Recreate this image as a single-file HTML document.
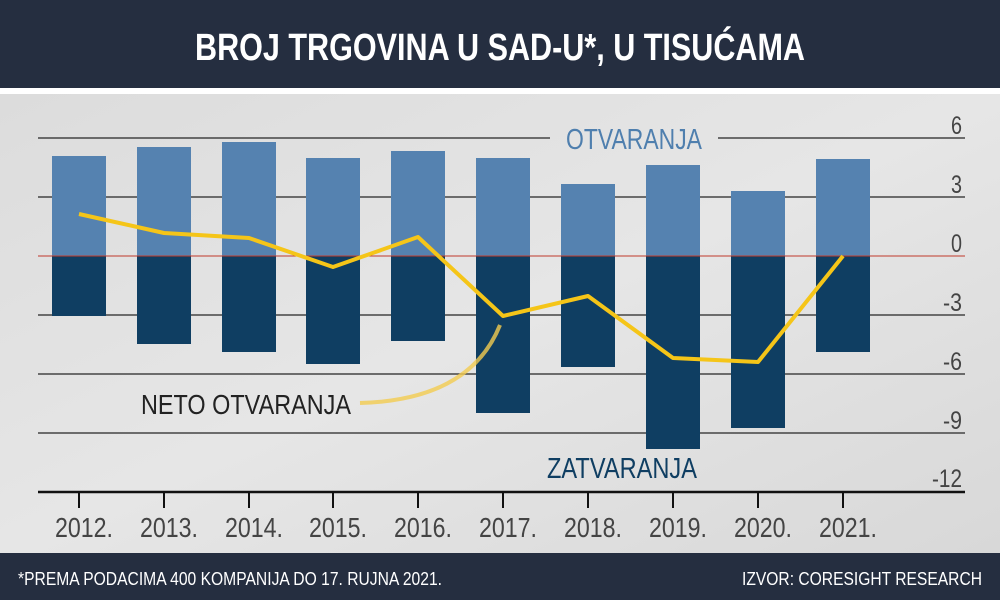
<!DOCTYPE html>
<html><head><meta charset="utf-8"><style>
html,body{margin:0;padding:0;width:1000px;height:600px;overflow:hidden;background:#fff}
svg{display:block}
text{font-family:"Liberation Sans Narrow","Liberation Sans",sans-serif}
</style></head><body>
<svg width="1000" height="600" viewBox="0 0 1000 600">
<defs>
<linearGradient id="bg" x1="0" y1="0" x2="1" y2="1">
<stop offset="0" stop-color="#dcdcdc"/><stop offset="0.5" stop-color="#e6e6e6"/><stop offset="1" stop-color="#d8d8d8"/>
</linearGradient>
</defs>
<rect x="0" y="0" width="1000" height="88" fill="#252e40"/>
<rect x="0" y="88" width="1000" height="6" fill="#ffffff"/>
<rect x="0" y="94" width="1000" height="459" fill="url(#bg)"/>
<rect x="0" y="553" width="1000" height="47" fill="#252e40"/>
<text x="500" y="60" text-anchor="middle" fill="#fff" font-size="38" font-weight="bold" textLength="610" lengthAdjust="spacingAndGlyphs">BROJ TRGOVINA U SAD-U*, U TISUĆAMA</text>
<g stroke="#444" stroke-width="1.5">
<line x1="38" y1="138" x2="550" y2="138"/><line x1="718" y1="138" x2="965" y2="138"/>
<line x1="38" y1="197" x2="965" y2="197"/>
<line x1="38" y1="315" x2="965" y2="315"/>
<line x1="38" y1="374" x2="965" y2="374"/>
<line x1="38" y1="433" x2="965" y2="433"/>
</g>
<g fill="#5582b0">
<rect x="52" y="156" width="54" height="100"/><rect x="137" y="147" width="54" height="109"/>
<rect x="222" y="142" width="54" height="114"/><rect x="306" y="158" width="54" height="98"/>
<rect x="391" y="151" width="54" height="105"/><rect x="476" y="158" width="54" height="98"/>
<rect x="561" y="184" width="54" height="72"/><rect x="646" y="165" width="54" height="91"/>
<rect x="731" y="191" width="54" height="65"/><rect x="816" y="159" width="54" height="97"/>
</g>
<g fill="#0f3e62">
<rect x="52" y="256" width="54" height="60"/><rect x="137" y="256" width="54" height="88"/>
<rect x="222" y="256" width="54" height="96"/><rect x="306" y="256" width="54" height="108"/>
<rect x="391" y="256" width="54" height="85"/><rect x="476" y="256" width="54" height="157"/>
<rect x="561" y="256" width="54" height="111"/><rect x="646" y="256" width="54" height="193"/>
<rect x="731" y="256" width="54" height="172"/><rect x="816" y="256" width="54" height="96"/>
</g>
<line x1="38" y1="256" x2="965" y2="256" stroke="#c0392b" stroke-width="1"/>
<path d="M360 403 Q470 400 500 325" fill="none" stroke="#f2cc50" stroke-width="4" opacity="0.8"/>
<polyline points="79,214 164,233 249,238 333,267 418,237 503,316 588,296 673,358 758,362 843,256" fill="none" stroke="#f5c518" stroke-width="4" stroke-linejoin="round"/>
<line x1="38" y1="492" x2="965" y2="492" stroke="#111" stroke-width="2.5"/>
<g stroke="#111" stroke-width="2">
<line x1="79" y1="492" x2="79" y2="508"/><line x1="164" y1="492" x2="164" y2="508"/><line x1="249" y1="492" x2="249" y2="508"/><line x1="333" y1="492" x2="333" y2="508"/><line x1="418" y1="492" x2="418" y2="508"/><line x1="503" y1="492" x2="503" y2="508"/><line x1="588" y1="492" x2="588" y2="508"/><line x1="673" y1="492" x2="673" y2="508"/><line x1="758" y1="492" x2="758" y2="508"/><line x1="843" y1="492" x2="843" y2="508"/>
</g>
<g fill="#444" font-size="28" text-anchor="middle">
<text x="84" y="537" textLength="58" lengthAdjust="spacingAndGlyphs">2012.</text>
<text x="169" y="537" textLength="58" lengthAdjust="spacingAndGlyphs">2013.</text>
<text x="254" y="537" textLength="58" lengthAdjust="spacingAndGlyphs">2014.</text>
<text x="338" y="537" textLength="58" lengthAdjust="spacingAndGlyphs">2015.</text>
<text x="423" y="537" textLength="58" lengthAdjust="spacingAndGlyphs">2016.</text>
<text x="508" y="537" textLength="58" lengthAdjust="spacingAndGlyphs">2017.</text>
<text x="593" y="537" textLength="58" lengthAdjust="spacingAndGlyphs">2018.</text>
<text x="678" y="537" textLength="58" lengthAdjust="spacingAndGlyphs">2019.</text>
<text x="763" y="537" textLength="58" lengthAdjust="spacingAndGlyphs">2020.</text>
<text x="848" y="537" textLength="58" lengthAdjust="spacingAndGlyphs">2021.</text>
</g>
<g fill="#444" font-size="25" text-anchor="end">
<text x="962" y="134" textLength="11" lengthAdjust="spacingAndGlyphs">6</text><text x="962" y="193" textLength="11" lengthAdjust="spacingAndGlyphs">3</text><text x="962" y="252" textLength="11" lengthAdjust="spacingAndGlyphs">0</text>
<text x="962" y="311" textLength="19" lengthAdjust="spacingAndGlyphs">-3</text><text x="962" y="370" textLength="19" lengthAdjust="spacingAndGlyphs">-6</text><text x="962" y="429" textLength="19" lengthAdjust="spacingAndGlyphs">-9</text><text x="962" y="487" textLength="30" lengthAdjust="spacingAndGlyphs">-12</text>
</g>
<text x="566" y="149" fill="#4f7fae" font-size="29" textLength="136" lengthAdjust="spacingAndGlyphs">OTVARANJA</text>
<text x="547" y="478" fill="#0f3e62" font-size="29" textLength="150" lengthAdjust="spacingAndGlyphs">ZATVARANJA</text>
<text x="141" y="414" fill="#222" font-size="28" textLength="210" lengthAdjust="spacingAndGlyphs">NETO OTVARANJA</text>
<text x="18" y="585" fill="#fff" font-size="18" textLength="424" lengthAdjust="spacingAndGlyphs">*PREMA PODACIMA 400 KOMPANIJA DO 17. RUJNA 2021.</text>
<text x="982" y="585" fill="#fff" font-size="18" text-anchor="end" textLength="240" lengthAdjust="spacingAndGlyphs">IZVOR: CORESIGHT RESEARCH</text>
</svg>
</body></html>
